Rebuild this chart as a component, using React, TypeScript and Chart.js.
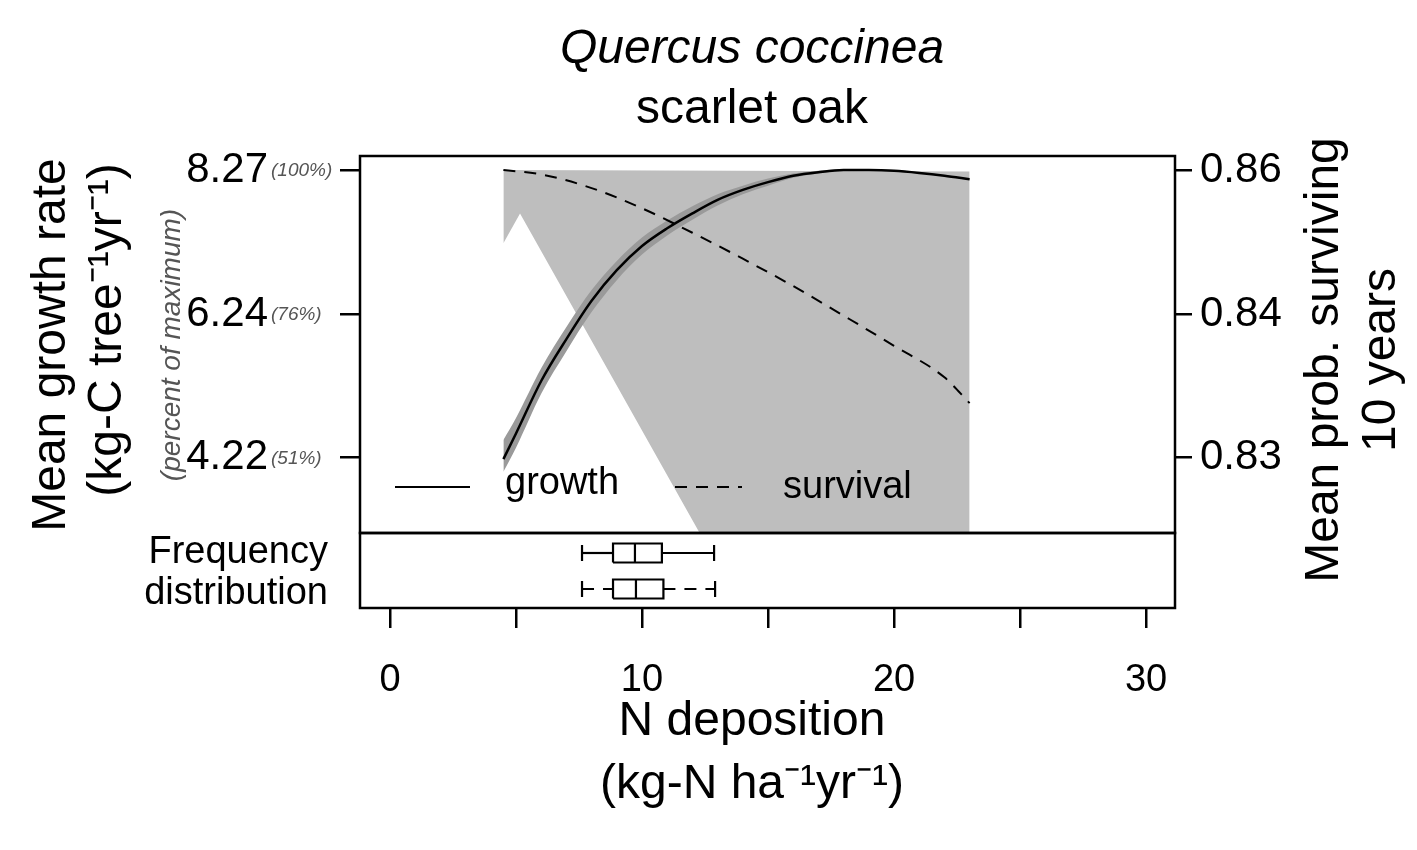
import React, { useEffect, useRef } from 'react';
import Chart from 'chart.js/auto';

const W = 1417;
const H = 850;
const FONT = '"Liberation Sans", Arial, sans-serif';

// N deposition values (kg-N/ha/yr)
const growthX = [4.5, 5, 6, 7, 8, 9, 10, 11, 12, 13, 14, 15, 16, 17, 18, 19, 20, 21, 22, 23];
const growthY = [4.2, 4.56, 5.3, 5.89, 6.43, 6.86, 7.2, 7.45, 7.66, 7.85, 7.99, 8.1, 8.19, 8.24, 8.27, 8.27, 8.26, 8.23, 8.19, 8.14];
const growthHi = [4.47, 4.78, 5.48, 6.06, 6.58, 6.99, 7.32, 7.56, 7.76, 7.93, 8.05, 8.15, 8.22, 8.26, 8.28, 8.28, 8.27, 8.24, 8.2, 8.15];
const growthLo = [4.02, 4.36, 5.12, 5.72, 6.27, 6.72, 7.08, 7.35, 7.57, 7.77, 7.93, 8.05, 8.16, 8.22, 8.26, 8.26, 8.25, 8.22, 8.18, 8.13];

const survX = [4.5, 6, 8, 10, 12, 14, 16, 18, 20, 22, 23];
const survP = [0.86, 0.8594, 0.8575, 0.8547, 0.8513, 0.8477, 0.8439, 0.8399, 0.8378, 0.8356, 0.8338];

// grey uncertainty region
const regionTopX = [4.5, 23];
const regionTopY = [8.27, 8.25];
const regionLowX = [4.5, 5.16, 12.54, 23];
const regionLowY = [7.24, 7.66, 3.0, 3.0];

// left axis ticks, right axis labels at the same positions
const leftTicks = [4.22, 6.24, 8.27];
const leftPct = ['(51%)', '(76%)', '(100%)'];
const rightLabels = ['0.83', '0.84', '0.86'];

// frequency distribution boxplots: [whiskerLo, q1, median, q3, whiskerHi]
const boxGrowth = [7.62, 8.85, 9.72, 10.79, 12.86];
const boxSurv = [7.62, 8.85, 9.76, 10.85, 12.9];

const X_MIN = -1.19;
const X_MAX = 31.15;

// map survival probability onto the growth axis via the shared tick positions
const probToAxis = (p: number) => {
  const ps = [0.83, 0.84, 0.86];
  if (p <= ps[1]) return leftTicks[0] + ((p - ps[0]) / (ps[1] - ps[0])) * (leftTicks[1] - leftTicks[0]);
  return leftTicks[1] + ((p - ps[1]) / (ps[2] - ps[1])) * (leftTicks[2] - leftTicks[1]);
};

const pts = (xs: number[], ys: number[]) => xs.map((x, i) => ({ x, y: ys[i] }));

const vtext = (ctx: CanvasRenderingContext2D, s: string, x: number, y: number) => {
  ctx.save();
  ctx.translate(x, y);
  ctx.rotate(-Math.PI / 2);
  ctx.fillText(s, 0, 0);
  ctx.restore();
};

const framePlugin = {
  id: 'frame',
  afterDatasetsDraw(chart: any) {
    const { ctx, chartArea: a } = chart;
    ctx.save();
    ctx.strokeStyle = '#000';
    ctx.lineWidth = 2.5;
    ctx.strokeRect(a.left, a.top, a.right - a.left, a.bottom - a.top);
    ctx.restore();
  },
};

const textPlugin = {
  id: 'texts',
  afterDraw(chart: any) {
    const ctx = chart.ctx as CanvasRenderingContext2D;
    const y = chart.scales.y;
    ctx.save();
    ctx.fillStyle = '#000';
    ctx.textAlign = 'center';
    ctx.textBaseline = 'middle';
    ctx.font = `italic 48px ${FONT}`;
    ctx.fillText('Quercus coccinea', 752, 50);
    ctx.font = `48px ${FONT}`;
    ctx.fillText('scarlet oak', 752, 110);
    vtext(ctx, 'Mean growth rate', 52, 345);
    vtext(ctx, '(kg-C tree\u207B\u00B9yr\u207B\u00B9)', 108, 330);
    vtext(ctx, 'Mean prob. surviving', 1325, 360);
    vtext(ctx, '10 years', 1382, 360);
    ctx.fillText('N deposition', 752, 722);
    ctx.fillText('(kg-N ha\u207B\u00B9yr\u207B\u00B9)', 752, 785);
    ctx.fillStyle = '#555';
    ctx.font = `italic 28px ${FONT}`;
    vtext(ctx, '(percent of maximum)', 172, 345);
    ctx.font = `italic 19px ${FONT}`;
    ctx.textAlign = 'left';
    leftTicks.forEach((v, i) => ctx.fillText(leftPct[i], 271, y.getPixelForValue(v) + 1));
    // legend
    ctx.fillStyle = '#000';
    ctx.font = `38px ${FONT}`;
    ctx.fillText('growth', 505, 484);
    ctx.fillText('survival', 783, 488);
    ctx.textAlign = 'right';
    ctx.fillText('Frequency', 328, 553);
    ctx.fillText('distribution', 328, 594);
    ctx.strokeStyle = '#000';
    ctx.lineWidth = 2;
    ctx.beginPath();
    ctx.moveTo(395, 487);
    ctx.lineTo(470, 487);
    ctx.stroke();
    ctx.setLineDash([12, 9]);
    ctx.beginPath();
    ctx.moveTo(675, 487);
    ctx.lineTo(742, 487);
    ctx.stroke();
    ctx.restore();
  },
};

const boxDatasets = (b: number[], yc: number, dashed: boolean) => {
  const h = 9.5;
  const black = { borderColor: '#000', borderWidth: 2.2, pointRadius: 0, fill: false, tension: 0 };
  return [
    { ...black, data: [{ x: b[1], y: yc - h }, { x: b[3], y: yc - h }, { x: b[3], y: yc + h }, { x: b[1], y: yc + h }, { x: b[1], y: yc - h }] },
    { ...black, data: [{ x: b[2], y: yc - h }, { x: b[2], y: yc + h }] },
    { ...black, borderDash: dashed ? [12, 9] : [], data: [{ x: b[0], y: yc }, { x: b[1], y: yc }] },
    { ...black, borderDash: dashed ? [12, 9] : [], data: [{ x: b[3], y: yc }, { x: b[4], y: yc }] },
    { ...black, data: [{ x: b[0], y: yc - 8 }, { x: b[0], y: yc + 8 }] },
    { ...black, data: [{ x: b[4], y: yc - 8 }, { x: b[4], y: yc + 8 }] },
  ];
};

export default function App() {
  const mainRef = useRef<HTMLCanvasElement>(null);
  const boxRef = useRef<HTMLCanvasElement>(null);

  useEffect(() => {
    if (!mainRef.current || !boxRef.current) return;
    const line = { pointRadius: 0, borderWidth: 0, tension: 0 };
    const main = new Chart(mainRef.current, {
      type: 'line',
      data: {
        datasets: [
          { ...line, data: pts(growthX, growthY), borderColor: '#000', borderWidth: 2.5, fill: false, cubicInterpolationMode: 'monotone' },
          { ...line, data: survX.map((x, i) => ({ x, y: probToAxis(survP[i]) })), borderColor: '#000', borderWidth: 2, borderDash: [12, 9], fill: false, cubicInterpolationMode: 'monotone' },
          { ...line, data: pts(growthX, growthHi), fill: false, cubicInterpolationMode: 'monotone' },
          { ...line, data: pts(growthX, growthLo), fill: '-1', backgroundColor: '#9a9a9a', cubicInterpolationMode: 'monotone' },
          { ...line, data: pts(regionTopX, regionTopY), fill: false },
          { ...line, data: pts(regionLowX, regionLowY), fill: '-1', backgroundColor: '#bebebe' },
        ],
      },
      options: {
        animation: false,
        responsive: false,
        devicePixelRatio: 1,
        layout: { padding: { left: 0, right: 0, top: 156, bottom: H - 533 } },
        plugins: { legend: { display: false }, tooltip: { enabled: false }, filler: { drawTime: 'beforeDatasetsDraw' } },
        scales: {
          x: { type: 'linear', min: X_MIN, max: X_MAX, display: false },
          y: {
            type: 'linear', min: 3.159, max: 8.468, position: 'left',
            afterBuildTicks: (s: any) => { s.ticks = leftTicks.map((v) => ({ value: v })); },
            afterFit: (s: any) => { s.width = 360; },
            ticks: { color: '#000', padding: 72, font: { family: FONT, size: 42 }, callback: (v: any) => Number(v).toFixed(2) },
            grid: { drawOnChartArea: false, color: '#000', lineWidth: 2.5, tickLength: 20 },
            border: { display: false },
          },
          y2: {
            type: 'linear', min: 3.159, max: 8.468, position: 'right',
            afterBuildTicks: (s: any) => { s.ticks = leftTicks.map((v) => ({ value: v })); },
            afterFit: (s: any) => { s.width = W - 1175; },
            ticks: { color: '#000', padding: 8, font: { family: FONT, size: 42 }, callback: (_v: any, i: number) => rightLabels[i] },
            grid: { drawOnChartArea: false, color: '#000', lineWidth: 2.5, tickLength: 17 },
            border: { display: false },
          },
        },
      },
      plugins: [framePlugin, textPlugin],
    } as any);

    const box = new Chart(boxRef.current, {
      type: 'line',
      data: { datasets: [...boxDatasets(boxGrowth, 55, false), ...boxDatasets(boxSurv, 19, true)] },
      options: {
        animation: false,
        responsive: false,
        devicePixelRatio: 1,
        layout: { padding: { left: 0, right: W - 1175, top: 533, bottom: 0 } },
        plugins: { legend: { display: false }, tooltip: { enabled: false } },
        scales: {
          x: {
            type: 'linear', min: X_MIN, max: X_MAX,
            afterBuildTicks: (s: any) => { s.ticks = [0, 5, 10, 15, 20, 25, 30].map((v) => ({ value: v })); },
            afterFit: (s: any) => { s.height = H - 608; },
            ticks: { color: '#000', padding: 30, autoSkip: false, maxRotation: 0, font: { family: FONT, size: 38 }, callback: (v: any) => (v % 10 === 0 ? String(v) : '') },
            grid: { drawOnChartArea: false, color: '#000', lineWidth: 2.5, tickLength: 20 },
            border: { display: false },
          },
          y: {
            type: 'linear', min: 0, max: 75,
            afterFit: (s: any) => { s.width = 360; },
            ticks: { display: false },
            grid: { display: false },
            border: { display: false },
          },
        },
      },
      plugins: [framePlugin],
    } as any);

    return () => {
      main.destroy();
      box.destroy();
    };
  }, []);

  return (
    <div style={{ position: 'fixed', left: 0, top: 0, width: W, height: H, background: '#fff' }}>
      <canvas ref={mainRef} width={W} height={H} style={{ position: 'absolute', left: 0, top: 0 }} />
      <canvas ref={boxRef} width={W} height={H} style={{ position: 'absolute', left: 0, top: 0 }} />
    </div>
  );
}
